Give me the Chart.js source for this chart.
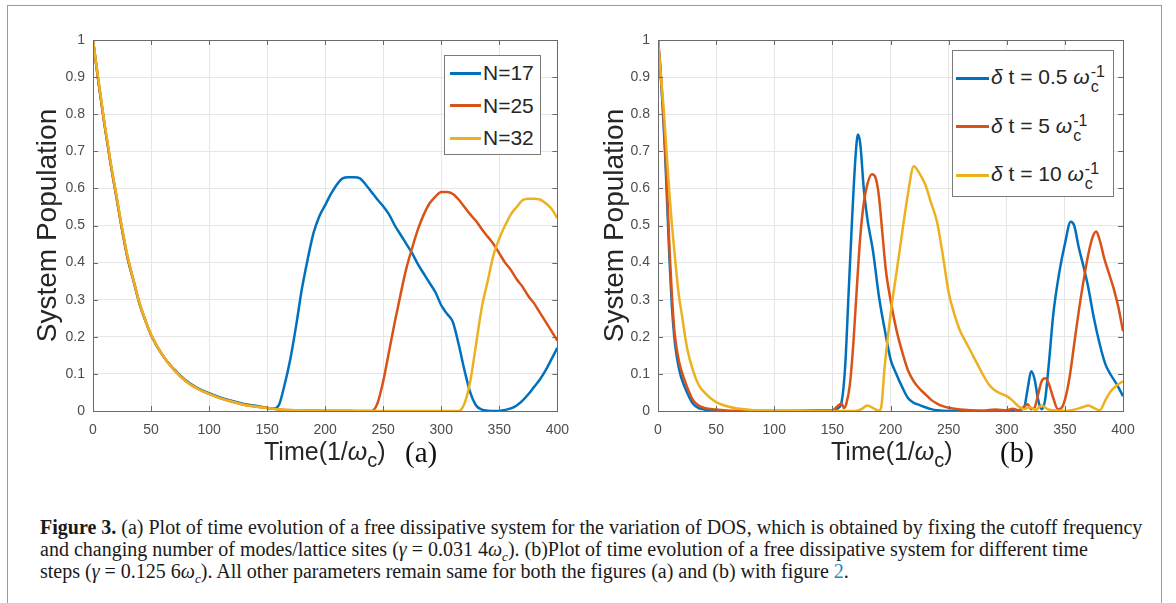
<!DOCTYPE html>
<html>
<head>
<meta charset="utf-8">
<script src="https://cdn.jsdelivr.net/npm/chart.js@4.4.1/dist/chart.umd.min.js"></script>
<style>
    body { margin: 0; width: 1176px; height: 603px; background: #fff; overflow: hidden; position: relative; font-family: "Liberation Sans", Arial, sans-serif; }
    #frame { position: absolute; left: 7px; top: 5px; width: 1155px; height: 640px; border: 1.5px solid #9a9a9a; box-sizing: border-box; }
    .chart-box { position: absolute; top: 22px; width: 560px; height: 465px; }
    .chart-box canvas { display: block; }
    .legend { position: absolute; background: #fff; border: 1px solid #7a7a7a; color: #262626; font-size: 21px; z-index: 2; box-sizing: border-box; }
    .legend .row { display: flex; align-items: center; white-space: nowrap; }
    .legend .swatch { display: inline-block; height: 3px; margin-right: 2px; }
    .ss { display: inline-flex; flex-direction: column; vertical-align: middle; font-size: 16px; line-height: 15px; margin-left: 1px; position: relative; top: 1px; }
    .xtitle { position: absolute; top: 437px; font-size: 25px; line-height: 28px; color: #262626; white-space: nowrap; z-index: 2; }
    .xtitle sub { font-size: 20px; position: relative; top: 7px; vertical-align: baseline; line-height: 0; }
    .panel-tag { position: absolute; top: 436px; font-family: "Liberation Serif", "Times New Roman", serif; font-size: 29px; line-height: 32px; color: #111; z-index: 2; }
    #caption { position: absolute; left: 40px; top: 516px; font-family: "Liberation Serif", "Times New Roman", serif; font-size: 20px; line-height: 22px; color: #1a1a1a; white-space: nowrap; }
    #caption div { height: 22px; }
    #caption sub { font-size: 13px; line-height: 0; }
    #caption .ref { color: #1d8ac8; }
</style>
</head>
<body>
<div id="frame"></div>

<div class="chart-box" style="left:20px"><canvas id="chartA" width="560" height="465"></canvas></div>
<div class="chart-box" style="left:588px"><canvas id="chartB" width="560" height="465"></canvas></div>

<div class="legend" id="legendA" style="left:444px; top:55px; width:97px; height:100px; padding:1px 0 0 5px;"></div>
<div class="legend" id="legendB" style="left:952px; top:50px; width:162px; height:147px; padding:3px 0 0 3px;"></div>

<div class="xtitle" style="left:264px">Time(1/<i>ω</i><sub>c</sub>)</div>
<div class="panel-tag" style="left:405px">(a)</div>
<div class="xtitle" style="left:831px">Time(1/<i>ω</i><sub>c</sub>)</div>
<div class="panel-tag" style="left:1000px">(b)</div>

<div id="caption">
    <div><b>Figure 3.</b> (a) Plot of time evolution of a free dissipative system for the variation of DOS, which is obtained by fixing the cutoff frequency</div>
    <div>and changing number of modes/lattice sites (<i>γ</i> = 0.031 4<i>ω<sub>c</sub></i>). (b)Plot of time evolution of a free dissipative system for different time</div>
    <div>steps (<i>γ</i> = 0.125 6<i>ω<sub>c</sub></i>). All other parameters remain same for both the figures (a) and (b) with figure <span class="ref">2</span>.</div>
</div>

<script>
// panel (a): number of modes N
const seriesNamesA = ['N=17', 'N=25', 'N=32'];

const timeN17 = [0,5,10,15,20,25,30,35,40,45,50,60,70,80,90,100,110,120,130,140,150,
    155,160,165,170,175,180,185,190,195,200,205,210,215,220,225,230,235,240,245,250,
    255,260,265,270,275,280,285,290,295,300,305,310,315,320,325,330,335,340,345,350,
    355,360,365,370,375,380,385,390,395,400];
const popN17 = [1.0,0.88,0.77,0.67,0.58,0.49,0.41,0.35,0.29,0.245,0.205,0.15,0.112,0.082,0.062,0.048,0.036,0.027,0.019,0.014,0.009,
    0.006,0.015,0.07,0.14,0.23,0.33,0.41,0.48,0.525,0.555,0.585,0.61,0.627,0.63,0.63,0.627,0.61,0.59,0.57,0.552,
    0.53,0.5,0.475,0.45,0.425,0.395,0.37,0.345,0.32,0.285,0.262,0.24,0.18,0.11,0.05,0.015,0.004,0.001,0,0,
    0.003,0.007,0.015,0.028,0.045,0.065,0.085,0.11,0.14,0.17];

const timeN25 = [0,5,10,15,20,25,30,35,40,45,50,60,70,80,90,100,110,120,130,140,150,
    160,180,200,220,240,
    245,250,255,260,265,270,275,280,285,290,295,300,305,310,315,320,325,330,335,340,
    345,350,355,360,365,370,375,380,385,390,395,400];
const popN25 = [1.0,0.88,0.77,0.67,0.58,0.49,0.41,0.35,0.29,0.245,0.205,0.15,0.11,0.08,0.06,0.046,0.034,0.025,0.017,0.012,0.008,
    0.004,0.002,0.001,0.0005,0,
    0.02,0.08,0.16,0.24,0.315,0.385,0.44,0.49,0.53,0.56,0.578,0.59,0.59,0.585,0.57,0.55,0.53,0.512,0.49,0.47,
    0.45,0.425,0.4,0.38,0.355,0.335,0.31,0.29,0.265,0.24,0.215,0.19];

const timeN32 = [0,5,10,15,20,25,30,35,40,45,50,60,70,80,90,100,110,120,130,140,150,
    160,180,200,240,280,315,
    320,325,330,335,340,345,350,355,360,365,370,375,380,385,390,395,400];
const popN32 = [1.0,0.885,0.775,0.675,0.585,0.495,0.415,0.352,0.292,0.246,0.206,0.15,0.11,0.08,0.06,0.046,0.034,0.025,0.017,0.012,0.008,
    0.004,0.002,0.001,0,0,0,
    0.02,0.08,0.18,0.28,0.35,0.42,0.465,0.5,0.53,0.55,0.568,0.572,0.572,0.57,0.56,0.545,0.52];

// panel (b): time step dt (in 1/omega_c)
const dtValues = ['0.5', '5', '10'];

const timeDt05 = [0,2,4,6,8,10,12,14,16,18,20,25,30,35,40,50,60,100,150,
    155,158,161,164,167,170,172,174,177,180,185,190,195,200,205,210,215,220,225,230,
    235,240,250,300,310,315,318,321,324,327,330,333,336,340,345,350,355,358,362,366,
    370,375,380,385,390,395,400];
const popDt05 = [1,0.92,0.82,0.7,0.55,0.4,0.28,0.2,0.15,0.115,0.09,0.05,0.02,0.008,0.004,0.001,0,0,0.002,
    0.008,0.025,0.12,0.32,0.52,0.69,0.745,0.72,0.6,0.52,0.43,0.31,0.22,0.14,0.1,0.065,0.035,0.022,0.016,0.01,
    0.005,0.002,0,0,0.002,0.01,0.06,0.107,0.085,0.03,0.005,0.03,0.12,0.26,0.37,0.45,0.51,0.5,0.44,0.39,
    0.335,0.25,0.18,0.125,0.095,0.07,0.04];

const timeDt5 = [0,2,4,6,8,10,12,14,16,18,20,25,30,35,40,50,60,80,150,
    155,158,160,162,165,168,171,174,177,180,184,187,190,193,196,200,205,210,215,220,
    225,230,235,240,245,250,260,270,280,290,300,305,310,315,318,321,324,327,330,333,
    336,340,344,347,350,354,358,362,366,370,374,377,380,384,388,392,396,400];
const popDt5 = [1,0.93,0.83,0.72,0.58,0.43,0.31,0.22,0.17,0.135,0.11,0.065,0.03,0.015,0.008,0.004,0.001,0,0.002,
    0.015,0.02,0.008,0.02,0.07,0.18,0.33,0.47,0.56,0.61,0.638,0.63,0.58,0.48,0.38,0.3,0.22,0.16,0.11,0.08,
    0.06,0.045,0.03,0.02,0.013,0.009,0.004,0.002,0.001,0.004,0.002,0.006,0.002,0.012,0.018,0.005,0.01,0.045,0.08,0.088,
    0.075,0.035,0.005,0.008,0.03,0.09,0.18,0.27,0.35,0.42,0.47,0.484,0.46,0.41,0.37,0.33,0.28,0.215];

const timeDt10 = [0,2,5,8,10,12,15,18,20,25,30,35,40,45,50,60,70,80,100,120,
    170,175,180,185,190,192,195,200,205,210,215,220,225,230,235,240,245,250,255,260,
    265,270,275,280,285,290,295,300,305,310,315,320,325,330,335,340,350,360,365,370,
    375,380,385,390,395,400];
const popDt10 = [1,0.92,0.81,0.67,0.58,0.5,0.4,0.31,0.27,0.17,0.11,0.07,0.05,0.035,0.024,0.012,0.006,0.003,0.001,0,
    0,0.005,0.015,0.008,0.001,0.01,0.12,0.26,0.37,0.48,0.585,0.66,0.64,0.61,0.56,0.51,0.42,0.32,0.26,0.215,
    0.185,0.155,0.125,0.095,0.07,0.055,0.047,0.04,0.028,0.013,0.005,0.01,0.003,0.015,0.005,0.002,0,0.005,0.01,0.015,
    0.008,0.002,0.03,0.055,0.07,0.08];

// axes
const xMin = 0, xMax = 400, xStep = 50;
const yMin = 0, yMax = 1, yStep = 0.1;

// MATLAB default line colours
const lineColors = ['#0072BD', '#D95319', '#EDB120'];

function toPoints(xs, ys) {
    return xs.map((x, i) => ({ x: x, y: ys[i] }));
}

function makeDataset(label, xs, ys, idx) {
    return {
        label: label,
        data: toPoints(xs, ys),
        borderColor: lineColors[idx],
        backgroundColor: lineColors[idx],
        borderWidth: 2.5,
        pointRadius: 0,
        fill: false,
        cubicInterpolationMode: 'monotone',
        // later series sit on top, like MATLAB's plot order
        order: 2 - idx
    };
}

// box around the axes with small inward tick marks
const boxPlugin = {
    id: 'matlabBox',
    afterDatasetsDraw(chart) {
        const { ctx, chartArea: a, scales } = chart;
        ctx.save();
        ctx.strokeStyle = '#6a6a6a';
        ctx.lineWidth = 1;
        ctx.beginPath();
        scales.x.ticks.forEach(t => {
            const px = Math.round(scales.x.getPixelForValue(t.value)) + 0.5;
            ctx.moveTo(px, a.bottom); ctx.lineTo(px, a.bottom - 5);
            ctx.moveTo(px, a.top); ctx.lineTo(px, a.top + 5);
        });
        scales.y.ticks.forEach(t => {
            const py = Math.round(scales.y.getPixelForValue(t.value)) + 0.5;
            ctx.moveTo(a.left, py); ctx.lineTo(a.left + 5, py);
            ctx.moveTo(a.right, py); ctx.lineTo(a.right - 5, py);
        });
        ctx.stroke();
        ctx.strokeRect(Math.round(a.left) + 0.5, Math.round(a.top) + 0.5,
            Math.round(a.right - a.left), Math.round(a.bottom - a.top));
        ctx.restore();
    }
};

const tickFont = { size: 14, family: '"Liberation Sans", Arial, sans-serif' };

function makeChart(canvasId, datasets, opts) {
    return new Chart(document.getElementById(canvasId), {
        type: 'line',
        data: { datasets: datasets },
        options: {
            responsive: false,
            animation: false,
            layout: { padding: { top: 18, right: opts.padRight, bottom: 0, left: 0 } },
            plugins: { legend: { display: false }, tooltip: { enabled: false } },
            scales: {
                x: {
                    type: 'linear',
                    min: xMin, max: xMax,
                    ticks: { stepSize: xStep, padding: 11, color: '#4d4d4d', font: tickFont, maxRotation: 0 },
                    grid: { color: '#e6e6e6', drawTicks: false },
                    border: { color: '#6a6a6a' },
                    afterFit: s => { s.height = 76; }
                },
                y: {
                    min: yMin, max: yMax,
                    ticks: {
                        stepSize: yStep, padding: 8, color: '#4d4d4d', font: tickFont,
                        callback: v => String(Number(v.toFixed(1)))
                    },
                    grid: { color: '#e6e6e6', drawTicks: false },
                    border: { color: '#6a6a6a' },
                    title: {
                        display: true,
                        text: 'System Population',
                        color: '#262626',
                        font: { size: 28, family: '"Liberation Sans", Arial, sans-serif' },
                        padding: { top: opts.titlePad, bottom: 0 }
                    },
                    afterFit: s => { s.width = opts.yWidth; }
                }
            }
        },
        plugins: [boxPlugin]
    });
}

function buildLegend(chart, elId, labelsHtml, swatchWidth, rowHeight) {
    const el = document.getElementById(elId);
    el.innerHTML = '';
    chart.data.datasets.forEach((ds, i) => {
        const row = document.createElement('div');
        row.className = 'row';
        row.style.height = rowHeight + 'px';
        row.innerHTML = `<span class="swatch" style="width:${swatchWidth}px;background:${ds.borderColor}"></span><span>${labelsHtml[i]}</span>`;
        el.appendChild(row);
    });
}

window.addEventListener('load', function() {
    const chartA = makeChart('chartA', [
        makeDataset(seriesNamesA[0], timeN17, popN17, 0),
        makeDataset(seriesNamesA[1], timeN25, popN25, 1),
        makeDataset(seriesNamesA[2], timeN32, popN32, 2)
    ], { padRight: 22, yWidth: 73, titlePad: 11 });

    const chartB = makeChart('chartB', [
        makeDataset('δ t = ' + dtValues[0] + ' ωc-1', timeDt05, popDt05, 0),
        makeDataset('δ t = ' + dtValues[1] + ' ωc-1', timeDt5, popDt5, 1),
        makeDataset('δ t = ' + dtValues[2] + ' ωc-1', timeDt10, popDt10, 2)
    ], { padRight: 25, yWidth: 70, titlePad: 10 });

    buildLegend(chartA, 'legendA', seriesNamesA, 31, 32.5);
    const dtLabels = dtValues.map(v => `<i>δ</i> t = ${v} <i>ω</i><span class="ss"><span>-1</span><span>c</span></span>`);
    buildLegend(chartB, 'legendB', dtLabels, 33, 48.5);
});
</script>
</body>
</html>
